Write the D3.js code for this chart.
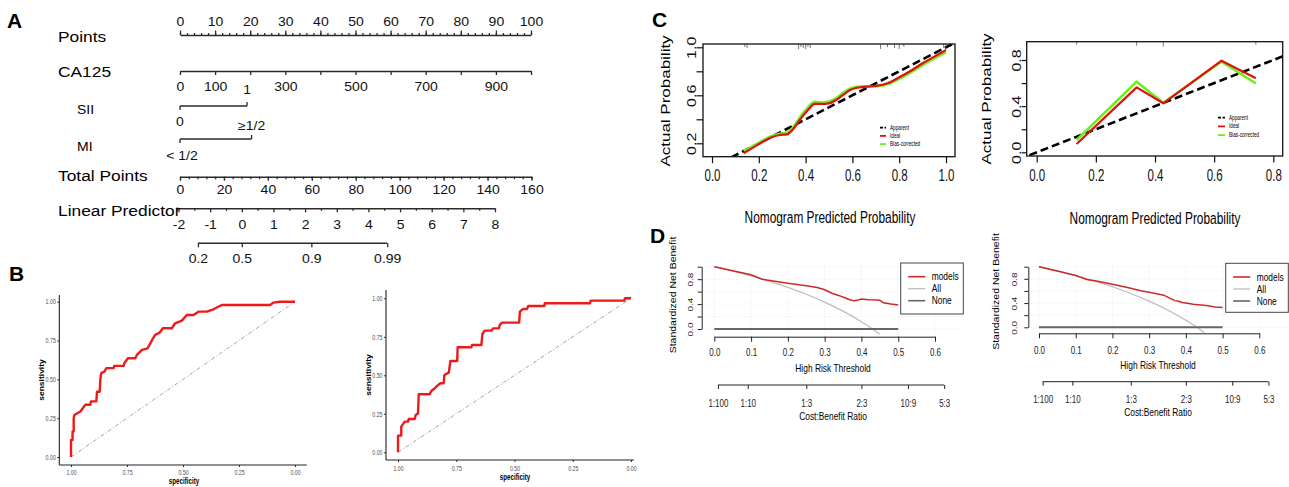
<!DOCTYPE html>
<html>
<head>
<meta charset="utf-8">
<script src="https://cdn.jsdelivr.net/npm/d3@7"></script>
<style>
  body { margin: 0; background: #fff; }
  svg { display: block; }
</style>
</head>
<body>
<script>
// ---------------- data ----------------
// A: nomogram
var pointTicks  = [0, 10, 20, 30, 40, 50, 60, 70, 80, 90, 100];
var ca125Ticks  = [0, 100, 200, 300, 400, 500, 600, 700, 800, 900, 1000];
var ca125Labels = [0, 100, 300, 500, 700, 900];
var siiLevels   = ["0", "1"];
var siiPoints   = [0, 19.1];
var miLevels    = ["< 1/2", "\u22651/2"];
var miPoints    = [0, 20.4];
var totalTicks  = [0, 20, 40, 60, 80, 100, 120, 140, 160];
var lpTicks     = [-2, -1, 0, 1, 2, 3, 4, 5, 6, 7, 8];
var probTicks   = [0.2, 0.5, 0.9, 0.99];

// B: ROC curves (specificity, sensitivity)
var rocTicks = [0, 0.25, 0.5, 0.75, 1];
var rocLeftSpec = [1,1,0.993,0.993,0.988,0.988,0.985,0.958,0.936,0.914,0.911,0.887,0.884,0.872,0.869,0.865,0.851,0.842,0.81,0.807,0.765,0.762,0.746,0.713,0.706,0.683,0.658,0.646,0.634,0.624,0.605,0.59,0.55,0.535,0.505,0.483,0.453,0.431,0.394,0.364,0.327,0.111,0.097,0.067,0];
var rocLeftSens = [0,0.11,0.11,0.165,0.165,0.25,0.27,0.293,0.336,0.336,0.358,0.358,0.42,0.42,0.5,0.54,0.55,0.572,0.572,0.587,0.587,0.604,0.636,0.636,0.657,0.69,0.7,0.732,0.764,0.786,0.8,0.829,0.829,0.861,0.878,0.914,0.914,0.936,0.936,0.951,0.979,0.979,0.994,1,1];
var rocRightSpec = [1,1,0.986,0.986,0.971,0.957,0.954,0.928,0.924,0.914,0.911,0.864,0.857,0.842,0.832,0.818,0.804,0.801,0.782,0.775,0.746,0.744,0.685,0.682,0.642,0.638,0.628,0.599,0.592,0.567,0.563,0.553,0.48,0.477,0.463,0.446,0.441,0.372,0.37,0.176,0.173,0.029,0.026,0];
var rocRightSens = [0,0.108,0.108,0.167,0.199,0.199,0.216,0.216,0.242,0.253,0.377,0.377,0.398,0.416,0.431,0.448,0.448,0.502,0.517,0.593,0.593,0.682,0.682,0.697,0.697,0.768,0.79,0.79,0.805,0.805,0.827,0.842,0.842,0.913,0.931,0.931,0.95,0.95,0.968,0.968,0.985,0.985,1,1];

// C: calibration curves
var calLeftX     = [0.135,0.17,0.21,0.25,0.29,0.32,0.35,0.38,0.41,0.44,0.47,0.50,0.53,0.56,0.59,0.62,0.66,0.70,0.75,0.80,0.85,0.90,0.95,1.00];
var calLeftIdeal = [0.117,0.158,0.205,0.247,0.269,0.275,0.325,0.408,0.478,0.528,0.528,0.533,0.561,0.603,0.644,0.663,0.672,0.678,0.700,0.750,0.805,0.867,0.922,0.978];
var calLeftBias  = [0.138,0.170,0.215,0.258,0.280,0.288,0.342,0.428,0.500,0.545,0.538,0.548,0.575,0.620,0.656,0.670,0.675,0.676,0.692,0.738,0.792,0.852,0.908,0.958];
var calLeftRug   = [0.14,0.15,0.37,0.38,0.39,0.40,0.41,0.42,0.72,0.75,0.78,0.80,0.82,0.99,1.0];
var calRightX     = [0.135, 0.338, 0.428, 0.625, 0.741];
var calRightIdeal = [0.072, 0.563, 0.425, 0.794, 0.641];
var calRightBias  = [0.107, 0.612, 0.430, 0.785, 0.598];
var calRightRug   = [0.135, 0.338, 0.428, 0.741];
var calLeftXTicks  = [0, 0.2, 0.4, 0.6, 0.8, 1.0];
var calLeftYTicks  = [0.2, 0.4, 0.6, 0.8, 1.0];
var calLeftYLabels = [0.2, 0.6, 1.0];
var calRightXTicks  = [0, 0.2, 0.4, 0.6, 0.8];
var calRightYTicks  = [0, 0.2, 0.4, 0.6, 0.8];
var calRightYLabels = [0, 0.4, 0.8];
var calLegend = ["Apparent", "Ideal", "Bias-corrected"];

// D: decision curves
var dcaT          = [0,0.05,0.1,0.13,0.16,0.2,0.25,0.28,0.3,0.32,0.34,0.36,0.37,0.38,0.39,0.4,0.42,0.44,0.45,0.46,0.48,0.5];
var dcaLeftModel  = [1.0,0.935,0.87,0.80,0.77,0.735,0.695,0.665,0.63,0.575,0.535,0.49,0.465,0.455,0.465,0.48,0.47,0.465,0.46,0.42,0.40,0.385];
var dcaRightModel = [1.0,0.93,0.855,0.79,0.76,0.71,0.645,0.60,0.578,0.555,0.53,0.47,0.44,0.43,0.41,0.40,0.38,0.37,0.365,0.355,0.335,0.325];
var allT  = [0,0.05,0.1,0.15,0.2,0.25,0.3,0.35,0.4,0.43,0.45];
var allNB = [1.0,0.93,0.853,0.766,0.669,0.558,0.432,0.286,0.116,0.0,-0.085];
var dcaXTicks = [0, 0.1, 0.2, 0.3, 0.4, 0.5, 0.6];
var dcaYTicks = [0, 0.2, 0.4, 0.6, 0.8, 1.0];
var dcaYLabels = [0, 0.4, 0.8];
var cbCost    = [1, 1, 1, 2, 10, 5];
var cbBenefit = [100, 10, 3, 3, 9, 3];
var dcaLegend = ["models", "All", "None"];

// ---------------- svg ----------------
var svg = d3.select("body").append("svg")
    .attr("width", 1289).attr("height", 487)
    .style("font-family", "'Liberation Sans', Arial, sans-serif");
svg.append("rect").attr("width", 1289).attr("height", 487).attr("fill", "#fff");

// text helper, sx squeezes the glyphs (figure was scaled unevenly)
function txt(g, x, y, s, size, o) {
  o = o || {};
  var sx = o.sx || 1;
  var tr = "translate(" + x + "," + y + ")" +
    (o.rot ? " rotate(-90) scale(1," + sx + ")" : " scale(" + sx + ",1)");
  return g.append("text").attr("transform", tr)
    .attr("text-anchor", o.anchor || "start")
    .attr("font-size", size)
    .attr("font-weight", o.bold ? "bold" : null)
    .attr("fill", o.fill || "#000")
    .text(s);
}

// panel letters
txt(svg, 7, 28, "A", 21, {bold: true});
txt(svg, 9, 281, "B", 21, {bold: true});
txt(svg, 652, 27, "C", 21, {bold: true});
txt(svg, 650, 243, "D", 21, {bold: true});

// ---------------- A: nomogram ----------------
var nomo = svg.append("g");
var nomoSx = 1.12, nomoTick = 12.5;
var ptsX = d3.scaleLinear().domain([0, 100]).range([180, 531]);
var caX  = d3.scaleLinear().domain([0, 1000]).range([180, 531]);
var totX = d3.scaleLinear().domain([0, 160]).range([180, 531.5]);
var lpX  = d3.scaleLinear().domain([-2, 8]).range([178.5, 495]);
var plain = function(d) { return String(d); };

function nomoAxis(axis, y, noDomain) {
  var g = nomo.append("g").attr("transform", "translate(0," + y + ")").call(axis)
      .attr("font-family", null).attr("font-size", nomoTick).attr("color", "#2b2b2b");
  g.select(".domain").attr("stroke-width", 1.5);
  if (noDomain) g.select(".domain").remove();
  g.selectAll(".tick line").attr("stroke-width", 1.3);
  g.selectAll(".tick text").attr("fill", "#111").attr("transform", "scale(" + nomoSx + ",1)");
  return g;
}

// Points
nomoAxis(d3.axisTop(ptsX).tickValues(d3.range(0, 101, 2)).tickSize(2).tickSizeOuter(0).tickFormat(""), 35, true);
nomoAxis(d3.axisTop(ptsX).tickValues(pointTicks).tickSize(4.5).tickSizeOuter(0).tickPadding(4.5).tickFormat(plain), 35);
// CA125
nomoAxis(d3.axisBottom(caX).tickValues(ca125Ticks).tickSize(4).tickSizeOuter(0).tickPadding(7)
  .tickFormat(function(d) { return ca125Labels.indexOf(d) >= 0 ? String(d) : ""; }), 71);

// SII and MI: two-level bars, labels alternate above/below
function catBar(points, levels, y, labYs) {
  var x0 = ptsX(points[0]), x1 = ptsX(points[1]);
  nomo.append("line").attr("x1", x0).attr("x2", x1).attr("y1", y).attr("y2", y)
    .attr("stroke", "#2b2b2b").attr("stroke-width", 1.5);
  nomo.append("line").attr("x1", x0).attr("x2", x0).attr("y1", y).attr("y2", y + 4)
    .attr("stroke", "#2b2b2b").attr("stroke-width", 1.3);
  nomo.append("line").attr("x1", x1).attr("x2", x1).attr("y1", y).attr("y2", y - 4)
    .attr("stroke", "#2b2b2b").attr("stroke-width", 1.3);
  txt(nomo, x0 + (labYs[2] || 0), labYs[0], levels[0], nomoTick, {anchor: "middle", sx: nomoSx, fill: "#111"});
  txt(nomo, x1, labYs[1], levels[1], nomoTick, {anchor: "middle", sx: nomoSx, fill: "#111"});
}
catBar(siiPoints, siiLevels, 106, [126, 94.3]);
catBar(miPoints, miLevels, 139, [160, 130.3, 2]);

// Total Points
nomoAxis(d3.axisBottom(totX).tickValues(d3.range(0, 161, 4)).tickSize(2.5).tickSizeOuter(0).tickFormat(""), 176.7, true);
nomoAxis(d3.axisBottom(totX).tickValues(totalTicks).tickSize(4).tickSizeOuter(0).tickPadding(4.7).tickFormat(plain), 176.7);
// Linear Predictor
nomoAxis(d3.axisBottom(lpX).tickValues(d3.range(-1.5, 8, 1)).tickSize(2.5).tickSizeOuter(0).tickFormat(""), 208.3, true);
nomoAxis(d3.axisBottom(lpX).tickValues(lpTicks).tickSize(4).tickSizeOuter(0).tickPadding(8).tickFormat(plain), 208.3);
nomo.append("line").attr("x1", 176.5).attr("x2", lpX(-2)).attr("y1", 208.3).attr("y2", 208.3)
  .attr("stroke", "#2b2b2b").attr("stroke-width", 1.5);
// probability scale sits on the linear predictor
var logit = function(p) { return Math.log(p / (1 - p)); };
nomoAxis(d3.axisBottom(lpX).tickValues(probTicks.map(logit)).tickSize(4).tickPadding(7)
  .tickFormat(function(d, i) { return String(probTicks[i]); }), 243.3, true);
nomo.append("line").attr("x1", lpX(logit(probTicks[0]))).attr("x2", lpX(logit(probTicks[probTicks.length - 1])))
  .attr("y1", 243.3).attr("y2", 243.3).attr("stroke", "#2b2b2b").attr("stroke-width", 1.5);

// row labels
txt(nomo, 58, 42.2, "Points", 15.5, {sx: nomoSx});
txt(nomo, 58, 77.2, "CA125", 15.5, {sx: nomoSx});
txt(nomo, 77, 113.8, "SII", 12.5, {sx: nomoSx});
txt(nomo, 77, 151.3, "MI", 12.5, {sx: nomoSx});
txt(nomo, 58, 180.5, "Total Points", 15.5, {sx: nomoSx});
txt(nomo, 58, 215.5, "Linear Predictor", 15.5, {sx: nomoSx});

// ---------------- B: ROC ----------------
function rocPanel(spec, sens, b) {
  var g = svg.append("g");
  var x = d3.scaleLinear().domain([1, 0]).range([b.xl, b.xr]);
  var y = d3.scaleLinear().domain([0, 1]).range([b.yb, b.yt]);

  g.append("line").attr("x1", x(1)).attr("y1", y(0)).attr("x2", x(0)).attr("y2", y(1))
    .attr("stroke", "#9a9a9a").attr("stroke-width", 0.9).attr("stroke-dasharray", "4,2,1,2");
  g.append("path").datum(d3.zip(spec, sens))
    .attr("d", d3.line().x(function(d) { return x(d[0]); }).y(function(d) { return y(d[1]); }))
    .attr("fill", "none").attr("stroke", "#ee1a1a").attr("stroke-width", 2.4)
    .attr("stroke-linejoin", "round");

  var xa = g.append("g").attr("transform", "translate(0," + b.axY + ")")
    .call(d3.axisBottom(x).tickValues(rocTicks).tickSize(2).tickFormat(d3.format(".2f")));
  xa.select(".domain").remove();
  xa.attr("font-family", null).attr("color", "#333");
  xa.selectAll(".tick text").attr("y", b.xtY).attr("dy", null).attr("font-size", 7)
    .attr("fill", "#4d4d4d").attr("transform", "scale(0.75,1)");

  var ya = g.append("g").attr("transform", "translate(" + b.axX + ",0)")
    .call(d3.axisLeft(y).tickValues(rocTicks).tickSize(2).tickFormat(d3.format(".2f")));
  ya.select(".domain").remove();
  ya.attr("font-family", null).attr("color", "#333");
  ya.selectAll(".tick text").attr("x", -3.5 / 0.75).attr("font-size", 7)
    .attr("fill", "#4d4d4d").attr("transform", "scale(0.75,1)");

  g.append("line").attr("x1", b.axX).attr("x2", b.axX).attr("y1", b.axTop).attr("y2", b.axY)
    .attr("stroke", "#222").attr("stroke-width", 1.1);
  g.append("line").attr("x1", b.axX).attr("x2", b.axRight).attr("y1", b.axY).attr("y2", b.axY)
    .attr("stroke", "#222").attr("stroke-width", 1.1);

  txt(g, b.ylabX, b.ylabY, "sensitivity", 8.5, {rot: true, anchor: "middle", bold: true, sx: 0.8});
  txt(g, b.xlabX, b.xlabY, "specificity", 8.5, {anchor: "middle", bold: true, sx: 0.73});
}
rocPanel(rocLeftSpec, rocLeftSens, {xl: 71, xr: 295, yb: 457, yt: 301.7, axX: 59.3, axTop: 295,
  axY: 465, axRight: 306.7, xtY: 9.7, ylabX: 44, ylabY: 380, xlabX: 184, xlabY: 483.5});
rocPanel(rocRightSpec, rocRightSens, {xl: 398, xr: 631, yb: 452.3, yt: 298.3, axX: 386, axTop: 290,
  axY: 460, axRight: 634, xtY: 11.5, ylabX: 370.5, ylabY: 375, xlabX: 515, xlabY: 479.5});

// ---------------- C: calibration ----------------
var cSx = 0.72;
function calPanel(xv, ideal, bias, rug, b, id) {
  var g = svg.append("g");
  var x = d3.scaleLinear().domain([0, b.xMax]).range([b.x0, b.x1]);
  var y = d3.scaleLinear().domain([0, b.yMax]).range([b.y0, b.y1]);

  g.append("clipPath").attr("id", id).append("rect")
    .attr("x", b.l).attr("y", b.t).attr("width", b.r - b.l).attr("height", b.b - b.t);
  var inner = g.append("g").attr("clip-path", "url(#" + id + ")");

  var line = d3.line().x(function(d) { return x(d[0]); }).y(function(d) { return y(d[1]); })
    .curve(b.curve);
  inner.append("line").attr("x1", x(-0.1)).attr("y1", y(-0.1)).attr("x2", x(1.1)).attr("y2", y(1.1))
    .attr("stroke", "#000").attr("stroke-width", 2.6).attr("stroke-dasharray", "8,4");
  inner.append("path").datum(d3.zip(xv, bias)).attr("d", line)
    .attr("fill", "none").attr("stroke", "#6cf01c").attr("stroke-width", 2.6)
    .attr("stroke-linejoin", "round");
  inner.append("path").datum(d3.zip(xv, ideal)).attr("d", line)
    .attr("fill", "none").attr("stroke", "#e01010").attr("stroke-width", 2.2)
    .attr("stroke-linejoin", "round");
  inner.selectAll(".rug").data(rug).enter().append("line")
    .attr("x1", function(d) { return x(d); }).attr("x2", function(d) { return x(d); })
    .attr("y1", b.t).attr("y2", function(d, i) { return b.t + 3 + (i % 3); })
    .attr("stroke", "#444").attr("stroke-width", 0.7);

  g.append("rect").attr("x", b.l).attr("y", b.t).attr("width", b.r - b.l).attr("height", b.b - b.t)
    .attr("fill", "none").attr("stroke", "#111").attr("stroke-width", 1.3);

  var xa = g.append("g").attr("transform", "translate(0," + b.b + ")")
    .call(d3.axisBottom(x).tickValues(b.xTicks).tickSize(6.5).tickFormat(d3.format(".1f")));
  xa.select(".domain").remove();
  xa.attr("font-family", null).attr("color", "#111");
  xa.selectAll(".tick line").attr("stroke-width", 1.2);
  xa.selectAll(".tick text").attr("y", b.xtY - b.b).attr("dy", null).attr("font-size", 16)
    .attr("transform", "scale(" + cSx + ",1)");

  var ya = g.append("g").attr("transform", "translate(" + b.l + ",0)")
    .call(d3.axisLeft(y).tickValues(b.yTicks).tickSize(b.ytl)
      .tickFormat(function(d) { return b.yLabels.indexOf(d) >= 0 ? d3.format(".1f")(d) : ""; }));
  ya.select(".domain").remove();
  ya.attr("font-family", null).attr("color", "#111");
  ya.selectAll(".tick line").attr("stroke-width", 1.2);
  ya.selectAll(".tick text").attr("x", 0).attr("dy", null).attr("text-anchor", "middle").attr("font-size", 16)
    .attr("transform", "translate(" + b.ytX + ",0) rotate(-90) scale(1,0.85)");

  txt(g, b.ylabX, b.ylabY, "Actual Probability", 17, {rot: true, anchor: "middle", sx: cSx});
  txt(g, b.xlabX, b.xlabY, "Nomogram Predicted Probability", 16.5, {anchor: "middle", sx: cSx});

  // legend
  var cols = ["#000", "#e01010", "#6cf01c"];
  calLegend.forEach(function(s, i) {
    var ly = b.legY + i * b.legDy;
    g.append("line").attr("x1", b.legX).attr("x2", b.legX + b.legW).attr("y1", ly).attr("y2", ly)
      .attr("stroke", cols[i]).attr("stroke-width", 1.8)
      .attr("stroke-dasharray", i === 0 ? "3,1.5" : null);
    txt(g, b.legX + b.legW + 4, ly + 2, s, 6.5, {sx: cSx});
  });
}
calPanel(calLeftX, calLeftIdeal, calLeftBias, calLeftRug, {
  xMax: 1, yMax: 1, x0: 712, x1: 946, y0: 167.3, y1: 47.3, l: 703, r: 955, t: 44, b: 156.7,
  xTicks: calLeftXTicks, yTicks: calLeftYTicks, yLabels: calLeftYLabels, ytl: 6.5, ytX: -7, xtY: 181,
  ylabX: 670, ylabY: 101, xlabX: 830, xlabY: 222.5, legX: 880, legW: 6, legY: 127.7, legDy: 8.2,
  curve: d3.curveMonotoneX}, "clipCL");
calPanel(calRightX, calRightIdeal, calRightBias, calRightRug, {
  xMax: 0.8, yMax: 0.8, x0: 1036.7, x1: 1273.3, y0: 152.3, y1: 60, l: 1026.7, r: 1282.7, t: 41.7, b: 156,
  xTicks: calRightXTicks, yTicks: calRightYTicks, yLabels: calRightYLabels, ytl: 5, ytX: -5.5, xtY: 181.5,
  ylabX: 991, ylabY: 99, xlabX: 1155, xlabY: 224, legX: 1218, legW: 7, legY: 117.7, legDy: 8.7,
  curve: d3.curveLinear}, "clipCR");

// ---------------- D: decision curves ----------------
var dSx = 0.8;
function dcaPanel(model, b, id) {
  var g = svg.append("g");
  var x = d3.scaleLinear().domain([0, 0.6]).range([b.x0, b.x1]);
  var y = d3.scaleLinear().domain([0, 1]).range([b.y0, b.y1]);

  // faint grid
  dcaYTicks.forEach(function(v) {
    g.append("line").attr("x1", b.l).attr("x2", b.r).attr("y1", y(v)).attr("y2", y(v))
      .attr("stroke", "#ececec").attr("stroke-width", 0.8).attr("stroke-dasharray", "1,1");
  });
  dcaXTicks.forEach(function(v) {
    g.append("line").attr("x1", x(v)).attr("x2", x(v)).attr("y1", b.t).attr("y2", b.b)
      .attr("stroke", "#ececec").attr("stroke-width", 0.8).attr("stroke-dasharray", "1,1");
  });

  g.append("clipPath").attr("id", id).append("rect")
    .attr("x", b.l).attr("y", b.t).attr("width", b.r - b.l).attr("height", b.b - b.t);
  var inner = g.append("g").attr("clip-path", "url(#" + id + ")");
  var line = d3.line().x(function(d) { return x(d[0]); }).y(function(d) { return y(d[1]); });

  inner.append("path").datum(d3.zip(allT, allNB)).attr("d", line.curve(d3.curveMonotoneX))
    .attr("fill", "none").attr("stroke", "#bdbdbd").attr("stroke-width", 1.3);
  inner.append("line").attr("x1", x(0)).attr("x2", x(0.5)).attr("y1", y(0)).attr("y2", y(0))
    .attr("stroke", "#666").attr("stroke-width", 2);
  inner.append("path").datum(d3.zip(dcaT, model)).attr("d", line.curve(d3.curveLinear))
    .attr("fill", "none").attr("stroke", "#cc2a2a").attr("stroke-width", 1.5);

  var xa = g.append("g").attr("transform", "translate(0," + b.axY + ")")
    .call(d3.axisBottom(x).tickValues(dcaXTicks).tickSize(5).tickSizeOuter(0).tickFormat(d3.format(".1f")));
  xa.attr("font-family", null).attr("color", "#222");
  xa.selectAll(".tick text").attr("y", b.xtY - b.axY).attr("dy", null).attr("font-size", 10)
    .attr("transform", "scale(" + dSx + ",1)");

  var ya = g.append("g").attr("transform", "translate(" + b.axX + ",0)")
    .call(d3.axisLeft(y).tickValues(dcaYTicks).tickSize(4).tickSizeOuter(0)
      .tickFormat(function(d) { return dcaYLabels.indexOf(d) >= 0 ? d3.format(".1f")(d) : ""; }));
  ya.attr("font-family", null).attr("color", "#222");
  ya.selectAll(".tick text").attr("x", 0).attr("dy", null).attr("text-anchor", "middle").attr("font-size", 10)
    .attr("transform", "translate(" + b.ytX + ",0) rotate(-90) scale(1," + dSx + ")");

  // cost:benefit axis
  var cbPos = cbCost.map(function(c, i) { return c / (c + cbBenefit[i]); });
  var ca = g.append("g").attr("transform", "translate(0," + b.cbY + ")")
    .call(d3.axisBottom(x).tickValues(cbPos).tickSize(4)
      .tickFormat(function(d, i) { return cbCost[i] + ":" + cbBenefit[i]; }));
  ca.select(".domain").remove();
  ca.attr("font-family", null).attr("color", "#222");
  ca.selectAll(".tick text").attr("y", b.cbtY - b.cbY).attr("dy", null).attr("font-size", 10)
    .attr("transform", "scale(" + dSx + ",1)");
  g.append("line").attr("x1", x(cbPos[0])).attr("x2", x(cbPos[cbPos.length - 1]))
    .attr("y1", b.cbY).attr("y2", b.cbY).attr("stroke", "#222");

  txt(g, b.midX, b.xlabY, "High Risk Threshold", 10.5, {anchor: "middle", sx: dSx});
  txt(g, b.midX, b.cblabY, "Cost:Benefit Ratio", 10.5, {anchor: "middle", sx: dSx});
  txt(g, b.ylabX, b.ylabY, "Standardized Net Benefit", 10.5, {rot: true, anchor: "middle", sx: dSx});

  // legend
  g.append("rect").attr("x", b.lgX).attr("y", b.lgY).attr("width", b.lgW).attr("height", b.lgH)
    .attr("fill", "#fff").attr("stroke", "#444").attr("stroke-width", 1);
  var cols = ["#cc2a2a", "#bdbdbd", "#666"];
  dcaLegend.forEach(function(s, i) {
    var ly = b.lgY + 13.7 + i * 12;
    g.append("line").attr("x1", b.lgX + 7.5).attr("x2", b.lgX + 24.5).attr("y1", ly).attr("y2", ly)
      .attr("stroke", cols[i]).attr("stroke-width", i === 1 ? 1.3 : 1.6);
    txt(g, b.lgX + 31, ly + 3.6, s, 10.5, {sx: dSx});
  });
}
dcaPanel(dcaLeftModel, {x0: 714.3, x1: 935, y0: 329, y1: 266.7, l: 701.7, r: 963, t: 263, b: 336.7,
  axX: 701.7, axY: 336.7, xtY: 356, ytX: -8.3, cbY: 385, cbtY: 406.7, midX: 833, xlabY: 371.7,
  cblabY: 420, ylabX: 676, ylabY: 295, lgX: 900.7, lgY: 263, lgW: 62.6, lgH: 51}, "clipDL");
dcaPanel(dcaRightModel, {x0: 1039, x1: 1259.3, y0: 327.3, y1: 266.7, l: 1028.3, r: 1288, t: 263, b: 333.3,
  axX: 1028.3, axY: 333.3, xtY: 354.3, ytX: -11, cbY: 381.7, cbtY: 402.7, midX: 1158, xlabY: 369,
  cblabY: 415.7, ylabX: 999, ylabY: 291.5, lgX: 1225.7, lgY: 263.3, lgW: 62.6, lgH: 49}, "clipDR");
</script>
</body>
</html>
